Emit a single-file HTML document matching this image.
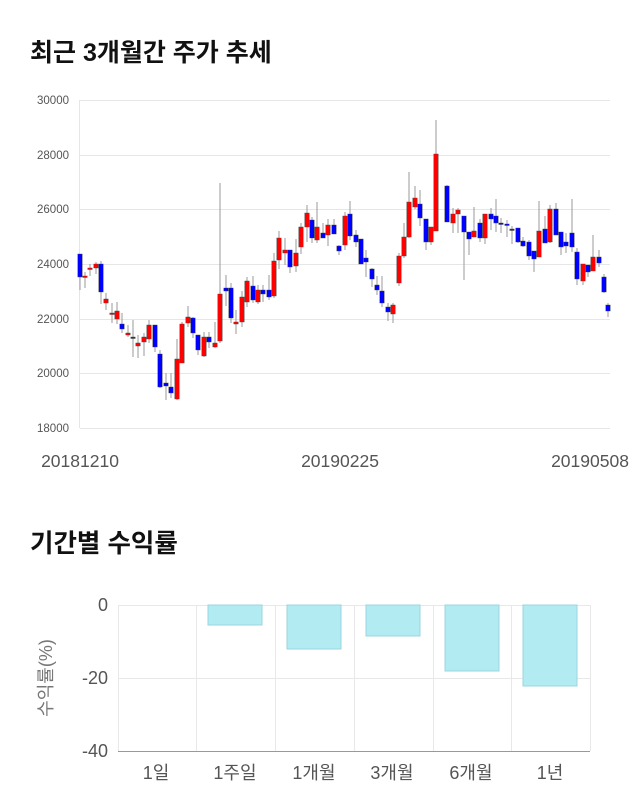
<!DOCTYPE html>
<html><head><meta charset="utf-8"><style>
body{margin:0;background:#fff;width:640px;height:810px;overflow:hidden;font-family:"Liberation Sans","Noto Sans CJK KR",sans-serif}
</style></head><body>
<svg width="640" height="810" xmlns="http://www.w3.org/2000/svg" style="position:absolute;left:0;top:0">
<text x="30" y="61" font-size="25" font-weight="bold" fill="#111" font-family="Liberation Sans,Noto Sans CJK KR,sans-serif">최근 3개월간 주가 추세</text>
<g stroke="#e6e6e6" stroke-width="1">
<line x1="80" x2="610" y1="100.5" y2="100.5"/><line x1="80" x2="610" y1="155.5" y2="155.5"/>
<line x1="80" x2="610" y1="209.5" y2="209.5"/><line x1="80" x2="610" y1="264.5" y2="264.5"/>
<line x1="80" x2="610" y1="319.5" y2="319.5"/><line x1="80" x2="610" y1="373.5" y2="373.5"/>
<line x1="80" x2="610" y1="428.5" y2="428.5"/><line x1="79.5" x2="79.5" y1="100" y2="428"/>
</g>
<g font-size="11.5" fill="#555" text-anchor="end">
<text x="69" y="104">30000</text><text x="69" y="159">28000</text><text x="69" y="213">26000</text>
<text x="69" y="268">24000</text><text x="69" y="323">22000</text><text x="69" y="377">20000</text><text x="69" y="432">18000</text>
</g>
<g font-size="17.5" fill="#555" text-anchor="middle">
<text x="80" y="467">20181210</text><text x="340" y="467">20190225</text><text x="590" y="467">20190508</text>
</g>
<g id="c"></g>
<text x="30" y="552" font-size="25.5" font-weight="bold" fill="#111">기간별 수익률</text>
<g stroke="#e8e8e8" stroke-width="1">
<line x1="118" x2="590" y1="605.5" y2="605.5"/><line x1="118" x2="590" y1="678.5" y2="678.5"/><line x1="118" x2="590" y1="751.5" y2="751.5"/>
<line x1="118.5" x2="118.5" y1="605" y2="751"/><line x1="196.5" x2="196.5" y1="605" y2="751"/><line x1="275.5" x2="275.5" y1="605" y2="751"/>
<line x1="354.5" x2="354.5" y1="605" y2="751"/><line x1="433.5" x2="433.5" y1="605" y2="751"/><line x1="511.5" x2="511.5" y1="605" y2="751"/><line x1="590.5" x2="590.5" y1="605" y2="751"/>
</g>
<line x1="118" x2="590" y1="751.5" y2="751.5" stroke="#999"/>
<g fill="#b2ebf2" stroke="#9bd6dd" stroke-width="1">
<rect x="208" y="605" width="54" height="20"/><rect x="287" y="605" width="54" height="44"/>
<rect x="366" y="605" width="54" height="31"/><rect x="445" y="605" width="54" height="66"/>
<rect x="523" y="605" width="54" height="81"/>
</g>
<g font-size="18" fill="#555" text-anchor="end">
<text x="108" y="611">0</text><text x="108" y="684">-20</text><text x="108" y="757">-40</text>
</g>
<text transform="translate(52,678) rotate(-90)" font-size="18" fill="#777" text-anchor="middle">수익률(%)</text>
<g font-size="18" fill="#555" text-anchor="middle">
<text x="156" y="779">1일</text><text x="235" y="779">1주일</text><text x="314" y="779">1개월</text>
<text x="392" y="779">3개월</text><text x="471" y="779">6개월</text><text x="550" y="779">1년</text>
</g>
</svg>
<script>
var d=[
[80,254,277,254,290,'b'],[85,276,277,272,288,'r'],[90,268,269,264,276,'r'],[96,264,268,262,274,'r'],[101,264,292,261,304,'b'],
[106,299,303,293,310,'r'],[112,313,314,303,323,'r'],[117,311,319,302,324,'r'],[122,324,329,313,333,'b'],[128,333,335,325,337,'r'],
[133,337,337,320,357,'k'],[138,343,346,335,358,'r'],[144,337,342,333,356,'r'],[149,325,339,320,343,'r'],[155,325,347,325,352,'b'],
[160,354,387,350,388,'b'],[166,383,386,373,400,'b'],[171,387,393,373,398,'b'],[177,359,399,339,400,'r'],[182,324,363,322,363,'r'],
[188,317,323,306,327,'r'],[193,318,333,317,338,'b'],[198,335,350,335,355,'b'],[204,337,356,332,357,'r'],[209,337,342,332,348,'b'],
[215,343,347,322,348,'r'],[220,294,341,183,343,'r'],[226,288,291,275,306,'b'],[231,288,318,283,323,'b'],[236,322,324,310,334,'r'],
[242,297,322,291,327,'r'],[247,281,302,277,307,'r'],[253,286,300,276,303,'b'],[258,290,302,285,304,'r'],[263,290,294,285,302,'b'],
[269,290,297,275,300,'b'],[274,261,296,253,298,'r'],[279,238,260,231,269,'r'],[285,250,253,238,265,'r'],[290,250,267,250,273,'b'],
[296,253,266,239,272,'r'],[301,227,247,223,254,'r'],[307,213,227,205,242,'r'],[312,220,238,217,243,'b'],[317,227,240,202,243,'r'],
[323,233,238,223,238,'b'],[328,225,235,219,246,'r'],[334,225,234,219,234,'b'],[339,246,251,245,255,'b'],[345,216,245,212,250,'r'],
[350,214,236,201,240,'b'],[356,235,242,230,247,'b'],[361,239,264,239,264,'b'],[366,258,262,250,277,'b'],[372,269,279,268,287,'b'],
[377,285,290,276,295,'b'],[382,291,303,276,307,'b'],[388,307,312,303,321,'b'],[393,305,314,303,323,'r'],[399,256,283,253,286,'r'],
[404,237,256,223,258,'r'],[409,202,237,172,238,'r'],[415,198,207,186,209,'r'],[420,204,218,190,226,'b'],[426,219,242,219,250,'b'],
[431,227,242,227,245,'r'],[436,154,231,120,231,'r'],[447,186,222,185,222,'b'],[453,214,223,208,233,'r'],[458,210,214,208,233,'r'],
[464,216,232,216,280,'b'],[469,232,239,232,255,'b'],[474,231,237,207,237,'r'],[480,223,238,219,242,'b'],[485,214,238,214,244,'r'],
[491,214,219,208,230,'b'],[496,216,223,199,232,'b'],[501,223,224,218,233,'b'],[507,224,225,220,237,'b'],[512,229,229,226,244,'k'],
[518,228,242,228,243,'b'],[523,241,246,237,247,'b'],[529,242,256,240,260,'b'],[534,251,259,251,272,'b'],[539,231,257,201,257,'r'],
[545,229,243,216,243,'b'],[550,209,242,205,243,'r'],[556,209,235,203,235,'b'],[561,232,247,232,255,'b'],[566,242,246,233,253,'b'],
[572,233,247,199,252,'b'],[577,252,279,248,285,'b'],[583,264,281,264,285,'r'],[588,265,272,265,277,'b'],[593,257,271,235,271,'r'],
[599,257,263,250,267,'b'],[604,277,292,274,293,'b'],[608,305,311,303,317,'b']];
var s='';d.forEach(function(c){var x=c[0],col=c[5]=='r'?'#f00':c[5]=='b'?'#00f':'#333';
s+='<line x1="'+x+'" x2="'+x+'" y1="'+c[3]+'" y2="'+c[4]+'" stroke="#999" stroke-width="1"/>';
var h=Math.max(c[2]-c[1],1.5);s+='<rect x="'+(x-2.2)+'" y="'+c[1]+'" width="4.4" height="'+h+'" fill="'+col+'" stroke="#444" stroke-width="0.4"/>';});
document.getElementById('c').innerHTML=s;
</script>
</body></html>
